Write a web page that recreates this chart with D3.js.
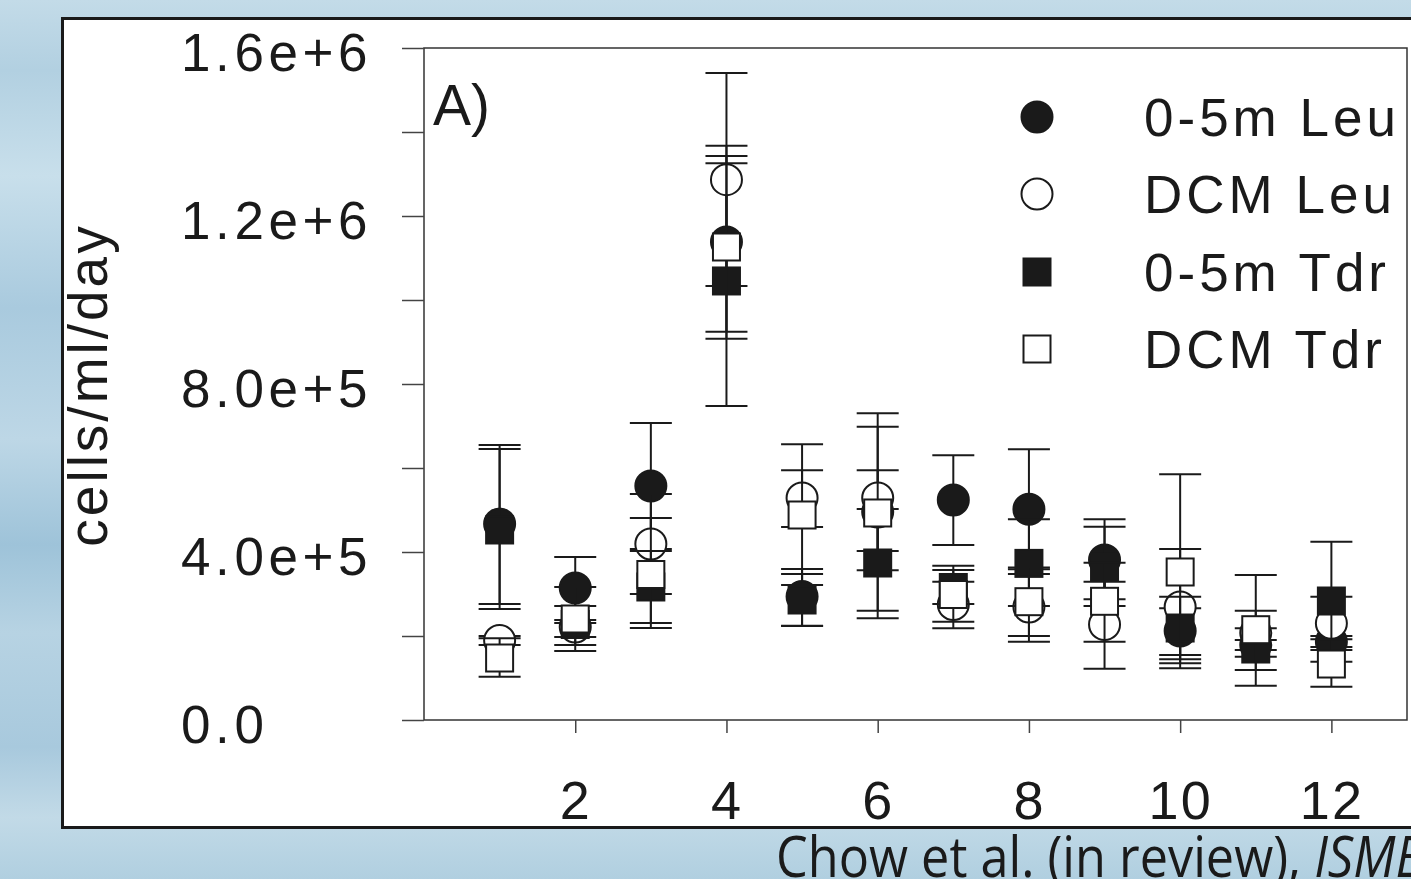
<!DOCTYPE html>
<html>
<head>
<meta charset="utf-8">
<script src="https://cdn.jsdelivr.net/npm/d3@7"></script>
<style>
  html, body { margin: 0; padding: 0; background: #b9d5e4; }
  svg { display: block; }
</style>
</head>
<body>
<div id="myPlot"></div>
<script>
// months on the x axis
const months = [1, 2, 3, 4, 5, 6, 7, 8, 9, 10, 11, 12];

// 0-5m Leu (filled circle): mean, upper and lower error bar ends
const leu05 = [466700, 314300, 557100, 1138100, 294000, 495200, 523800, 501700, 381000, 211900, 178600, 186400];
const leu05Hi = [654800, 388100, 707200, 1540500, 359500, 730200, 630200, 644500, 477900, 266000, 190500, 200000];
const leu05Lo = [276200, 238100, 407200, 747600, 224500, 260200, 416700, 358800, 287400, 154800, 166700, 173800];

// DCM Leu (open circle)
const leuDCM = [189300, 221400, 419000, 1286500, 528600, 528600, 275000, 269000, 227400, 269000, 207100, 230200];
const leuDCMHi = [200000, 231000, 538100, 1367400, 594500, 698300, 329300, 347600, 329300, 407100, 260200, 293600];
const leuDCMLo = [178600, 197600, 300000, 924500, 459500, 356400, 218300, 186400, 122100, 135000, 150700, 166700];

// 0-5m Tdr (filled square)
const tdr05 = [452400, 227400, 316700, 1045300, 285700, 373800, 315500, 372900, 363100, 219000, 169000, 283300];
const tdr05Hi = [645200, 271400, 402400, 1325500, 347600, 502400, 357100, 477900, 460200, 293600, 218300, 424500];
const tdr05Lo = [264300, 178600, 231000, 1033300, 223800, 242100, 276200, 271400, 271400, 144500, 119000, 138800];

// DCM Tdr (open square)
const tdrDCM = [147600, 240500, 346400, 1126200, 488100, 492900, 298800, 281700, 282600, 352400, 215000, 133300];
const tdrDCMHi = [194500, 316700, 481000, 1342900, 656400, 594500, 367400, 363100, 374500, 585000, 345200, 192100];
const tdrDCMLo = [103100, 164300, 219000, 907900, 321400, 402400, 234000, 200000, 186400, 123100, 81700, 79300];

const seriesNames = ['0-5m Leu', 'DCM Leu', '0-5m Tdr', 'DCM Tdr'];

// axis ticks
const yTicks = [0, 400000, 800000, 1200000, 1600000];
const yTickLabels = ['0.0', '4.0e+5', '8.0e+5', '1.2e+6', '1.6e+6'];
const yMinorTicks = [200000, 600000, 1000000, 1400000];
const xTicks = [2, 4, 6, 8, 10, 12];

const W = 1411, H = 879;
const margin = {top: 48, right: 4, bottom: 159, left: 424};
const plotW = W - margin.left - margin.right;
const plotH = H - margin.top - margin.bottom;

const svg = d3.select('#myPlot')
  .append('svg')
    .attr('width', W)
    .attr('height', H);

// watery blue backdrop
const defs = svg.append('defs');
const grad = defs.append('linearGradient')
  .attr('id', 'water')
  .attr('x1', 0).attr('y1', 0).attr('x2', 0).attr('y2', 1);
[[0, '#c3dbe8'], [0.08, '#b2d0e1'], [0.2, '#c8dfeb'], [0.35, '#a9cade'], [0.5, '#bdd7e6'],
 [0.62, '#9ec3d9'], [0.72, '#b7d3e3'], [0.85, '#a8c9dd'], [0.93, '#c2dae7'], [1, '#b0cfe0']]
  .forEach(s => grad.append('stop').attr('offset', s[0]).attr('stop-color', s[1]));

svg.append('rect')
  .attr('width', W).attr('height', H)
  .attr('fill', 'url(#water)');

// white panel with black border
svg.append('rect')
  .attr('x', 62.5).attr('y', 18.5)
  .attr('width', 1400).attr('height', 809)
  .attr('fill', 'white')
  .attr('stroke', '#1a1a1a')
  .attr('stroke-width', 3);

const g = svg.append('g')
  .attr('transform', 'translate(' + margin.left + ',' + margin.top + ')');

const x = d3.scaleLinear().domain([0, 13]).range([0, plotW]);
const y = d3.scaleLinear().domain([0, 1600000]).range([plotH, 0]);

// plot box
g.append('rect')
  .attr('width', plotW).attr('height', plotH)
  .attr('fill', 'none')
  .attr('stroke', '#333')
  .attr('stroke-width', 1.5);

// Y axis (labels sit left-aligned in a column)
const yAxis = g.append('g')
  .call(d3.axisLeft(y)
    .tickValues(yTicks.concat(yMinorTicks))
    .tickSize(22)
    .tickFormat(d => {
      const i = yTicks.indexOf(d);
      return i >= 0 ? yTickLabels[i] : '';
    }));
yAxis.select('.domain').remove();
yAxis.selectAll('line').attr('stroke', '#444').attr('stroke-width', 1.5);
yAxis.selectAll('text')
  .attr('x', 181 - margin.left)
  .attr('text-anchor', 'start')
  .attr('dy', '0.42em')
  .attr('fill', '#1a1a1a')
  .style('font-family', '"Liberation Sans", Arial, sans-serif')
  .style('font-size', '53px')
  .style('letter-spacing', '4.6px');

// X axis
const xAxis = g.append('g')
  .attr('transform', 'translate(0,' + plotH + ')')
  .call(d3.axisBottom(x)
    .tickValues(xTicks)
    .tickSize(13)
    .tickFormat(d3.format('d')));
xAxis.select('.domain').remove();
xAxis.selectAll('line').attr('stroke', '#444').attr('stroke-width', 1.5);
xAxis.selectAll('text')
  .attr('y', 99)
  .attr('dy', 0)
  .attr('fill', '#1a1a1a')
  .style('font-family', '"Liberation Sans", Arial, sans-serif')
  .style('font-size', '54px')
  .style('letter-spacing', '2px');

// Y axis title
svg.append('text')
  .attr('transform', 'translate(107,385) rotate(-90)')
  .attr('text-anchor', 'middle')
  .attr('fill', '#1a1a1a')
  .style('font-family', '"Liberation Sans", Arial, sans-serif')
  .style('font-size', '55px')
  .style('letter-spacing', '3px')
  .text('cells/ml/day');

// panel label
g.append('text')
  .attr('x', 9).attr('y', 77)
  .attr('fill', '#1a1a1a')
  .style('font-family', '"Liberation Sans", Arial, sans-serif')
  .style('font-size', '57px')
  .text('A)');

const series = [
  {name: seriesNames[0], mean: leu05, hi: leu05Hi, lo: leu05Lo, shape: 'circle', fill: '#1a1a1a'},
  {name: seriesNames[1], mean: leuDCM, hi: leuDCMHi, lo: leuDCMLo, shape: 'circle', fill: 'white'},
  {name: seriesNames[2], mean: tdr05, hi: tdr05Hi, lo: tdr05Lo, shape: 'square', fill: '#1a1a1a'},
  {name: seriesNames[3], mean: tdrDCM, hi: tdrDCMHi, lo: tdrDCMLo, shape: 'square', fill: 'white'}
];

const capW = 21;
const radius = 15.5;
const side = 27;

function drawMarker(sel, shape, fill) {
  if (shape === 'circle') {
    sel.append('circle')
      .attr('r', radius)
      .attr('fill', fill)
      .attr('stroke', '#1a1a1a')
      .attr('stroke-width', 2);
  } else {
    sel.append('rect')
      .attr('x', -side / 2).attr('y', -side / 2)
      .attr('width', side).attr('height', side)
      .attr('fill', fill)
      .attr('stroke', '#1a1a1a')
      .attr('stroke-width', 2);
  }
}

// each series: error bars first, then its symbols
series.forEach(s => {
  const rows = months.map((m, i) => ({m: m, v: s.mean[i], hi: s.hi[i], lo: s.lo[i]}));
  const bars = g.append('g')
    .attr('stroke', '#1a1a1a')
    .attr('stroke-width', 2);
  bars.selectAll('line.v')
    .data(rows)
    .enter()
    .append('line')
      .attr('x1', d => x(d.m)).attr('x2', d => x(d.m))
      .attr('y1', d => y(d.hi)).attr('y2', d => y(d.lo));
  bars.selectAll('line.top')
    .data(rows)
    .enter()
    .append('line')
      .attr('x1', d => x(d.m) - capW).attr('x2', d => x(d.m) + capW)
      .attr('y1', d => y(d.hi)).attr('y2', d => y(d.hi));
  bars.selectAll('line.bot')
    .data(rows)
    .enter()
    .append('line')
      .attr('x1', d => x(d.m) - capW).attr('x2', d => x(d.m) + capW)
      .attr('y1', d => y(d.lo)).attr('y2', d => y(d.lo));

  g.append('g').selectAll('g')
    .data(rows)
    .enter()
    .append('g')
      .attr('transform', d => 'translate(' + x(d.m) + ',' + y(d.v) + ')')
      .each(function() { drawMarker(d3.select(this), s.shape, s.fill); });
});

// legend
const legendY = [117, 194, 272, 349];
series.forEach((s, i) => {
  const row = svg.append('g').attr('transform', 'translate(1037,' + legendY[i] + ')');
  drawMarker(row, s.shape, s.fill);
  row.append('text')
    .attr('x', 107)
    .attr('dy', '0.36em')
    .attr('fill', '#1a1a1a')
    .style('font-family', '"Liberation Sans", Arial, sans-serif')
    .style('font-size', '53px')
    .style('letter-spacing', '4px')
    .text(s.name);
});

// citation under the panel
const cite = svg.append('text')
  .attr('transform', 'translate(776,877) scale(0.9,1)')
  .attr('fill', '#1a1a1a')
  .style('font-family', '"Open Sans", sans-serif')
  .style('font-size', '56px');
cite.append('tspan').text('Chow et al. (in review), ');
cite.append('tspan').style('font-style', 'italic').text('ISME');
</script>
</body>
</html>
